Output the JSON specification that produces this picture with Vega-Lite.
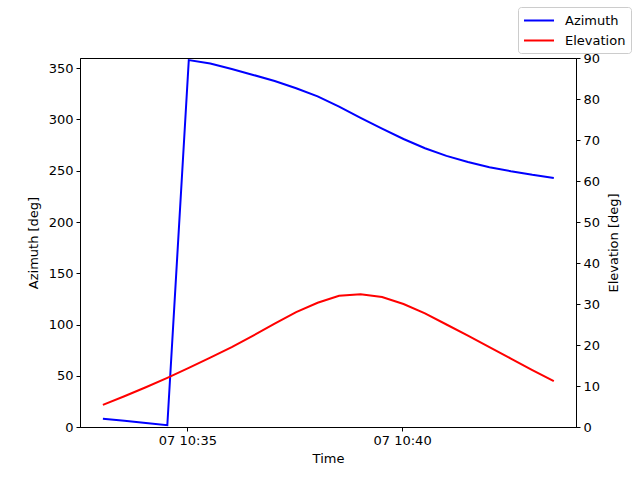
{
  "$schema": "https://vega.github.io/schema/vega-lite/v6.json",
  "autosize": {"type": "none"},
  "padding": {"left": 80, "top": 58, "right": 64, "bottom": 53},
  "width": 496,
  "height": 369,
  "config": {
    "font": "DejaVu Sans",
    "view": {"stroke": "black", "strokeWidth": 1},
    "axis": {
      "grid": false,
      "domainColor": "black",
      "tickColor": "black",
      "tickSize": 4,
      "labelFontSize": 13,
      "labelColor": "black",
      "titleFontSize": 13,
      "titleFontWeight": "normal",
      "titleColor": "black",
      "labelPadding": 3
    }
  },
  "data": {
    "values": [
      {"Time": "2024-06-07T10:33:02", "Azimuth": 8.1, "Elevation": 5.4},
      {"Time": "2024-06-07T10:33:32", "Azimuth": 6.0, "Elevation": 7.5},
      {"Time": "2024-06-07T10:34:02", "Azimuth": 3.9, "Elevation": 9.7},
      {"Time": "2024-06-07T10:34:32", "Azimuth": 1.7, "Elevation": 12.0},
      {"Time": "2024-06-07T10:35:02", "Azimuth": 358.0, "Elevation": 14.4},
      {"Time": "2024-06-07T10:35:32", "Azimuth": 354.6, "Elevation": 16.9},
      {"Time": "2024-06-07T10:36:02", "Azimuth": 349.2, "Elevation": 19.5},
      {"Time": "2024-06-07T10:36:32", "Azimuth": 343.5, "Elevation": 22.3},
      {"Time": "2024-06-07T10:37:02", "Azimuth": 337.5, "Elevation": 25.2},
      {"Time": "2024-06-07T10:37:32", "Azimuth": 330.5, "Elevation": 28.0},
      {"Time": "2024-06-07T10:38:02", "Azimuth": 322.5, "Elevation": 30.3},
      {"Time": "2024-06-07T10:38:32", "Azimuth": 312.5, "Elevation": 32.0},
      {"Time": "2024-06-07T10:39:02", "Azimuth": 301.5, "Elevation": 32.4},
      {"Time": "2024-06-07T10:39:32", "Azimuth": 291.0, "Elevation": 31.7},
      {"Time": "2024-06-07T10:40:02", "Azimuth": 281.0, "Elevation": 30.0},
      {"Time": "2024-06-07T10:40:32", "Azimuth": 272.0, "Elevation": 27.7},
      {"Time": "2024-06-07T10:41:02", "Azimuth": 264.5, "Elevation": 25.0},
      {"Time": "2024-06-07T10:41:32", "Azimuth": 258.5, "Elevation": 22.3},
      {"Time": "2024-06-07T10:42:02", "Azimuth": 253.5, "Elevation": 19.5},
      {"Time": "2024-06-07T10:42:32", "Azimuth": 249.5, "Elevation": 16.7},
      {"Time": "2024-06-07T10:43:02", "Azimuth": 246.0, "Elevation": 13.9},
      {"Time": "2024-06-07T10:43:32", "Azimuth": 243.0, "Elevation": 11.2}
    ]
  },
  "encoding": {
    "x": {
      "field": "Time",
      "type": "temporal",
      "title": "Time",
      "scale": {
        "domain": [
          {"year": 2024, "month": 6, "date": 7, "hours": 10, "minutes": 32, "seconds": 30.5},
          {"year": 2024, "month": 6, "date": 7, "hours": 10, "minutes": 44, "seconds": 3.5}
        ]
      },
      "axis": {
        "values": [
          {"year": 2024, "month": 6, "date": 7, "hours": 10, "minutes": 35},
          {"year": 2024, "month": 6, "date": 7, "hours": 10, "minutes": 40}
        ],
        "format": "%d %H:%M",
        "titlePadding": 5
      }
    }
  },
  "layer": [
    {
      "mark": {"type": "line", "strokeWidth": 2},
      "encoding": {
        "y": {
          "field": "Azimuth",
          "type": "quantitative",
          "title": "Azimuth [deg]",
          "scale": {"domain": [0, 360], "nice": false},
          "axis": {"values": [0, 50, 100, 150, 200, 250, 300, 350], "titlePadding": 8}
        },
        "color": {
          "datum": "Azimuth",
          "type": "nominal",
          "scale": {"domain": ["Azimuth", "Elevation"], "range": ["#0000ff", "#ff0000"]},
          "legend": {
            "title": null,
            "orient": "none",
            "legendX": 438,
            "legendY": -51,
            "fillColor": "white",
            "strokeColor": "#cccccc",
            "cornerRadius": 3,
            "padding": 5,
            "symbolType": "M-1,0H3",
            "symbolSize": 225,
            "symbolStrokeWidth": 2,
            "labelFontSize": 13,
            "labelColor": "black",
            "rowPadding": 4,
            "labelOffset": 25
          }
        }
      }
    },
    {
      "mark": {"type": "line", "strokeWidth": 2},
      "encoding": {
        "y": {
          "field": "Elevation",
          "type": "quantitative",
          "title": "Elevation [deg]",
          "scale": {"domain": [0, 90], "nice": false},
          "axis": {
            "orient": "right",
            "values": [0, 10, 20, 30, 40, 50, 60, 70, 80, 90],
            "titleAngle": -90,
            "titleBaseline": "top",
            "titlePadding": 8
          }
        },
        "color": {"datum": "Elevation", "type": "nominal"}
      }
    }
  ],
  "resolve": {"scale": {"y": "independent"}}
}
